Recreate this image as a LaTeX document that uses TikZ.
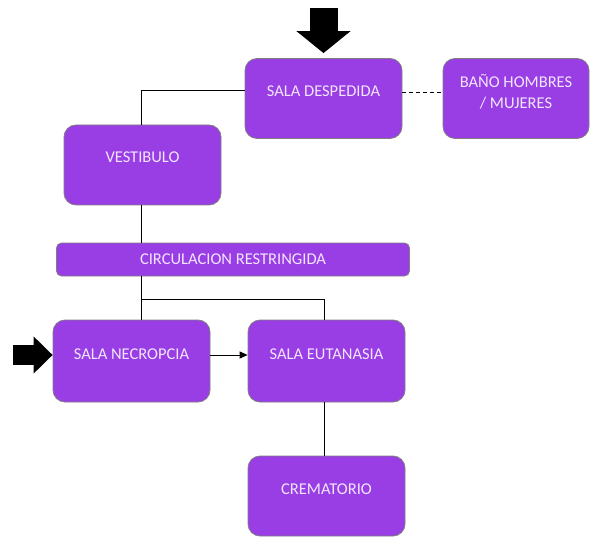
\documentclass[tikz,border=0pt]{standalone}
\usepackage{fontspec}
\setmainfont{Carlito}
\usetikzlibrary{positioning, arrows.meta}
\definecolor{salafill}{HTML}{993DE5}
\definecolor{salatext}{HTML}{F2E6FF}
\definecolor{salaline}{HTML}{7F7F7F}

\begin{document}
\begin{tikzpicture}[
		x=1pt, y=1pt,
		every node/.style={draw=salaline, line width=0.8pt, fill=salafill, rounded corners=12pt, text=salatext, font=\fontsize{16.5}{21}\selectfont, minimum width=157pt, minimum height=80pt, inner sep=0pt},
		sala/.style={text height=11pt, text depth=15pt},
		link/.style={line width=1pt, draw=black}
	]
	\useasboundingbox (0,0) rectangle (593,536);

	% Nodes
	\node[sala] (despedida) at (323.5,437.5) {SALA DESPEDIDA};
	\node[align=center, minimum width=146pt, text height=21pt, text depth=0pt] (bano) at (516,437.5) {BAÑO HOMBRES\\/ MUJERES};
	\node[sala] (vestibulo) at (142.5,371) {VESTIBULO};
	\node[minimum width=353pt, minimum height=33pt, rounded corners=5pt] (circulacion) at (233,276.5) {CIRCULACION RESTRINGIDA};
	\node[sala, minimum height=82pt] (necropcia) at (131.5,175) {SALA NECROPCIA};
	\node[sala, minimum height=82pt] (eutanasia) at (326.5,175) {SALA EUTANASIA};
	\node[sala] (crematorio) at (326.5,40) {CREMATORIO};

	\coordinate (entrada) at (323.5,528);
	\coordinate (ingreso) at (13,181);
	\coordinate (cruce) at ([yshift=-23pt]circulacion.south -| vestibulo.south);

	% Connections
	\draw[link] ([yshift=7.5pt]despedida.west) -| ([xshift=-1.5pt]vestibulo.north);
	\draw[link, dash pattern=on 4pt off 3pt] ([yshift=6pt]despedida.east) -- ([yshift=6pt]despedida.east -| bano.west);
	\draw[link] ([xshift=-1.5pt]vestibulo.south) -- ([xshift=-1.5pt]vestibulo.south |- circulacion.north);
	\draw[link] ([xshift=-1.5pt]circulacion.south -| vestibulo.south) -- ([xshift=-1.5pt]necropcia.north -| vestibulo.south);
	\draw[link] ([xshift=-1.5pt]cruce) -| ([xshift=-2.5pt]eutanasia.north);
	\draw[link, -{Triangle[length=8pt, width=7pt]}] ([yshift=6pt]necropcia.east) -- ([yshift=6pt]necropcia.east -| eutanasia.west);
	\draw[link] ([xshift=-2.5pt]eutanasia.south) -- ([xshift=-2.5pt]crematorio.north);

	\draw[line width=28pt, -{Triangle[length=22pt, width=53pt]}, shorten >=5pt] (entrada) -- (despedida.north);
	\draw[line width=20pt, -{Triangle[length=19pt, width=36pt]}] (ingreso) -- (ingreso -| necropcia.west);

\end{tikzpicture}
\end{document}
